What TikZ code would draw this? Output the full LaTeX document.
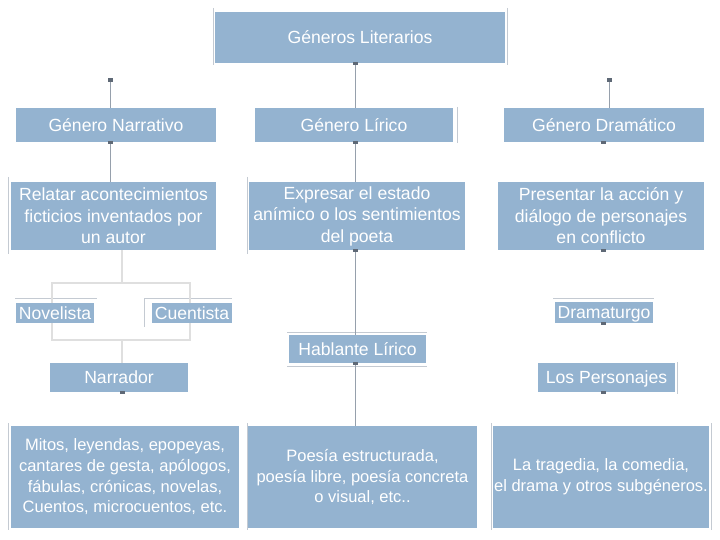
\documentclass[tikz,border=0pt]{standalone}
\usepackage{fontspec}
\setmainfont{Liberation Sans}
\definecolor{boxblue}{RGB}{148,179,208}
\definecolor{conn}{RGB}{150,160,172}
\definecolor{markc}{RGB}{95,105,118}
\definecolor{faint}{RGB}{196,202,210}
\newcommand\tk[1]{\fill[tick] (#1) ++(-2.5,-1.6) rectangle ++(5,3.2);}
\begin{document}
\begin{tikzpicture}[x=1pt,y=-1pt,
  box/.style={fill=boxblue, text=white, inner sep=0pt, align=center,
    font=\fontsize{17.6}{21.5}\selectfont},
  one/.style={box, text height=12.6pt, text depth=0pt},
  small/.style={box, font=\fontsize{16.5}{20.7}\selectfont},
  link/.style={draw=conn, line width=0.9pt},
  dbl/.style={draw=gray!62, line width=0.5pt, double=gray!25, double distance=1.6pt},
  tick/.style={fill=markc},
  frame/.style={draw=faint, line width=0.7pt}]
\useasboundingbox (0,0) rectangle (720,540);

% faint frame lines
\draw[frame] (213,8) -- (213,65) (507,8) -- (507,65);
\draw[frame] (8,177) -- (8,254) (457,107) -- (457,143) (247,177) -- (247,254);
\draw[frame] (15,298) -- (97,298) (144,298) -- (232,298) (144,298) -- (144,327);
\draw[frame] (287,332) -- (427,332) (287,366) -- (427,366);
\draw[frame] (553,298) -- (654,298) (677,362) -- (677,394);
\draw[frame] (8,423) -- (8,530) (247,423) -- (247,530) (491,423) -- (491,530) (711,423) -- (711,530);

% boxes
\node[one, minimum width=290pt, minimum height=51pt] (gl) at (360,37.5) {Géneros Literarios};
\node[one, minimum width=200pt, minimum height=34pt] (narr) at (116,125) {Género Narrativo};
\node[one, minimum width=198pt, minimum height=34pt] (lir) at (354,125) {Género Lírico};
\node[one, minimum width=200pt, minimum height=34pt] (dram) at (604,125) {Género Dramático};
\node[box, minimum width=205pt, minimum height=68pt] (rel) at (113.5,216) {Relatar acontecimientos\\ficticios inventados por\\un autor};
\node[box, minimum width=216pt, minimum height=68pt] (exp) at (357,216) {Expresar el estado\\anímico o los sentimientos\\del poeta};
\node[box, minimum width=206pt, minimum height=68pt] (pres) at (601,216) {Presentar la acción y\\diálogo de personajes\\en conflicto};
\node[one, minimum width=78pt, minimum height=20pt] (nov) at (55,313) {Novelista};
\node[one, minimum width=80pt, minimum height=20pt] (cue) at (192,313) {Cuentista};
\node[one, minimum width=98pt, minimum height=21pt] (dra) at (604,312.5) {Dramaturgo};
\node[one, minimum width=137pt, minimum height=28pt] (hab) at (357.5,349) {Hablante Lírico};
\node[one, minimum width=138pt, minimum height=29pt] (nar) at (119,377.5) {Narrador};
\node[one, minimum width=137pt, minimum height=29pt] (per) at (606.5,377.5) {Los Personajes};
\node[small, minimum width=228pt, minimum height=102pt] (mit) at (125,477) {Mitos, leyendas, epopeyas,\\cantares de gesta, apólogos,\\fábulas, crónicas, novelas,\\Cuentos, microcuentos, etc.};
\node[small, minimum width=229pt, minimum height=102pt] (poe) at (362.5,477) {Poesía estructurada,\\poesía libre, poesía concreta\\o visual, etc..};
\node[small, minimum width=216pt, minimum height=102pt] (tra) at (601,477) {La tragedia, la comedia,\\el drama y otros subgéneros.};

% reference coordinates
\coordinate (lx) at (355,0);
\coordinate (n0) at (110,80);
\coordinate (d0) at (609,80);
\coordinate (dx) at (603,0);
\coordinate (rx) at (122,0);
\coordinate (ax) at (52,283);
\coordinate (bx) at (190,283);
\coordinate (jb) at (122,340);

% connectors
\draw[link] (gl.south -| lx) -- (lir.north -| lx);
\draw[link] (lir.south -| lx) -- (exp.north -| lx);
\draw[link] (exp.south -| lx) -- (hab.north -| lx);
\draw[link] (hab.south -| lx) -- (poe.north -| lx);
\draw[link] (n0) -- (narr.north -| n0);
\draw[link] (narr.south -| n0) -- (rel.north -| n0);
\draw[link] (d0) -- (dram.north -| d0);

\draw[dbl] (rel.south -| rx) -- (ax -| rx);
\draw[dbl] (nov.north -| ax) -- (ax) -- (bx) -- (cue.north -| bx);
\draw[dbl] (nov.south -| ax) -- (jb -| ax) -- (jb -| bx) -- (cue.south -| bx);
\draw[dbl] (jb) -- (nar.north -| jb);

% connector end marks
\tk{gl.south -| lx}
\tk{n0}
\tk{narr.south -| n0}
\tk{lir.south -| lx}
\tk{exp.south -| lx}
\tk{hab.south -| lx}
\tk{d0}
\tk{dram.south -| dx}
\tk{pres.south -| dx}
\tk{dra.south -| dx}
\tk{per.south -| dx}
\tk{nar.south -| rx}
\end{tikzpicture}
\end{document}
